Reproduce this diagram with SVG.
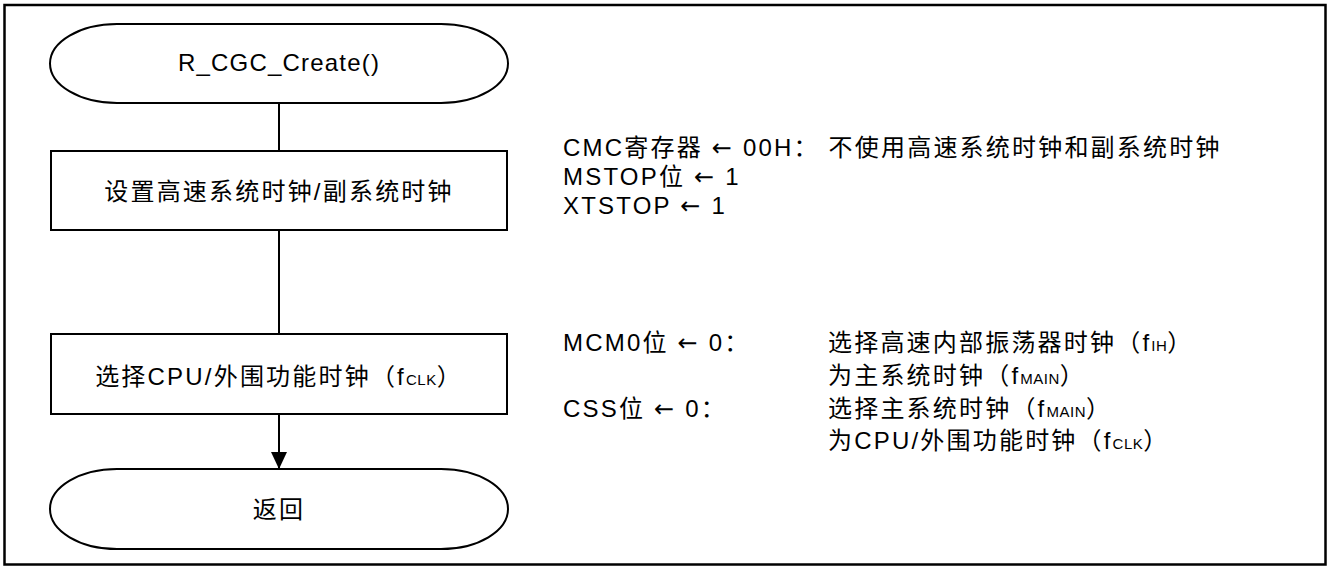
<svg xmlns="http://www.w3.org/2000/svg" width="1328" height="567" viewBox="0 0 1328 567">
<style>
  text { font-family: "Liberation Sans", "Noto Sans CJK SC", sans-serif; font-size: 24px; letter-spacing: 2.2px; fill: #000; }
  .c { text-anchor: middle; }
  .sub { font-size: 15px; letter-spacing: 0.5px; }
  .arr { font-family: "DejaVu Sans", sans-serif; }
  .shape { fill: #fff; stroke: #000; stroke-width: 2; }
  .conn { fill: none; stroke: #000; stroke-width: 2; }
</style>
<defs>
  <marker id="arrow" markerWidth="18" markerHeight="16" refX="17" refY="8" orient="auto" markerUnits="userSpaceOnUse">
    <path d="M0,0 L17,8 L0,16 Z" fill="#000"/>
  </marker>
</defs>
<rect x="0" y="0" width="1328" height="567" fill="#fff"/>
<rect x="4.5" y="5" width="1321" height="559.5" fill="none" stroke="#000" stroke-width="2.5"/>
<g id="connectors">
  <line class="conn" x1="279" y1="103" x2="279" y2="151"/>
  <line class="conn" x1="279" y1="230" x2="279" y2="334"/>
  <line class="conn" x1="279" y1="414" x2="279" y2="469" marker-end="url(#arrow)"/>
</g>
<g id="start">
  <path class="shape" d="M117,24 H441 A67,39.5 0 0 1 441,103 H117 A67,39.5 0 0 1 117,24 Z"/>
  <text class="c" x="279" y="71" style="letter-spacing:1.2px">R_CGC_Create()</text>
</g>
<g id="set-clock">
  <rect class="shape" x="51" y="151" width="456" height="79"/>
  <text class="c" x="279" y="200">设置高速系统时钟/副系统时钟</text>
</g>
<g id="select-clock">
  <rect class="shape" x="51" y="334" width="456" height="80"/>
  <text class="c" x="279" y="385">选择CPU/外围功能时钟（f<tspan class="sub">CLK</tspan>）</text>
</g>
<g id="return">
  <path class="shape" d="M117,469 H441 A67,40 0 0 1 441,549 H117 A67,40 0 0 1 117,469 Z"/>
  <text class="c" x="279" y="518">返回</text>
</g>
<g id="notes-1">
  <text x="563" y="156">CMC寄存器 <tspan class="arr">←</tspan> 00H： 不使用高速系统时钟和副系统时钟</text>
  <text x="563" y="185">MSTOP位 <tspan class="arr">←</tspan> 1</text>
  <text x="563" y="214">XTSTOP <tspan class="arr">←</tspan> 1</text>
</g>
<g id="notes-2">
  <text x="563" y="351">MCM0位 <tspan class="arr">←</tspan> 0：</text>
  <text x="828" y="351">选择高速内部振荡器时钟（f<tspan class="sub">IH</tspan>）</text>
  <text x="828" y="384">为主系统时钟（f<tspan class="sub">MAIN</tspan>）</text>
  <text x="563" y="417">CSS位 <tspan class="arr">←</tspan> 0：</text>
  <text x="828" y="417">选择主系统时钟（f<tspan class="sub">MAIN</tspan>）</text>
  <text x="828" y="449">为CPU/外围功能时钟（f<tspan class="sub">CLK</tspan>）</text>
</g>
</svg>
